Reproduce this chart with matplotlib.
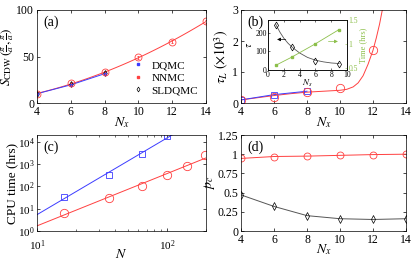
import numpy as np
import matplotlib.pyplot as plt
from matplotlib.lines import Line2D

plt.rcParams['font.family'] = ['Liberation Serif', 'DejaVu Serif']
plt.rcParams['mathtext.fontset'] = 'stix'
plt.rcParams['font.size'] = 8
plt.rcParams['xtick.direction'] = 'in'
plt.rcParams['ytick.direction'] = 'in'
plt.rcParams['xtick.top'] = True
plt.rcParams['ytick.right'] = True
plt.rcParams['axes.linewidth'] = 0.5

blue = '#3c3cff'
red = '#ff4040'
green = '#8cbf4a'

# (a) structure factor
nx_dq = [4, 6, 8]
s_dq = [10, 19.5, 31.5]
s_dq_err = [1.0, 1.2, 1.5]
nx_nn = [4, 6, 8, 10, 12, 14]
s_nn = [10, 21, 33, 49, 66, 88]
s_sl = [10, 20, 32]

# (b) autocorrelation time (x10^3)
tau_dq = [0.1, 0.27, 0.38]
tau_nn = [0.1, 0.2, 0.35, 0.5, 1.7]
nx_tau_nn = [4, 6, 8, 10, 12]
fit_b_x = [4, 5, 6, 7, 8, 9, 10, 10.4, 10.8, 11.1, 11.4, 11.7, 12.0, 12.2, 12.4, 12.6]
fit_b_y = [0.1, 0.17, 0.24, 0.3, 0.35, 0.38, 0.41, 0.44, 0.52, 0.65, 0.88, 1.25, 1.7, 2.1, 2.55, 3.1]

# inset
ns = [1, 3, 6, 9]
tau_ns = [245, 125, 50, 35]
time_ns = [0.55, 0.72, 1.0, 1.3]
fit_i_x = [1, 1.5, 2, 2.5, 3, 4, 5, 6, 7, 8, 9]
fit_i_y = [245, 205, 172, 146, 125, 92, 68, 53, 44, 38, 35]

# (c) CPU time
N_c = [16, 36, 64, 100, 144, 196]
cpu_nn = [6.5, 30, 105, 310, 800, 2600]
N_dq = [16, 36, 64, 100]
cpu_dq = [33, 320, 2900, 18000]

# (d) acceptance
nx_d = [4, 6, 8, 10, 12, 14]
pc_nn = [0.945, 0.97, 0.975, 0.985, 0.995, 1.0]
pc_sl = [0.47, 0.32, 0.2, 0.16, 0.15, 0.16]

fig = plt.figure(figsize=(4.15, 2.61), dpi=100)
W, H = 415, 261
def box(l, t, r, b):
    return [l / W, 1 - b / H, (r - l) / W, (b - t) / H]

axa = fig.add_axes(box(37, 10, 206, 103))
axb = fig.add_axes(box(241, 10, 406, 103))
axc = fig.add_axes(box(37, 135, 206, 231))
axd = fig.add_axes(box(241, 135, 406, 231))

# (a)
p = np.polyfit(nx_nn, s_nn, 2)
xf = np.linspace(4, 14, 100)
axa.plot(xf, np.polyval(p, xf), color=red, lw=0.7)
axa.plot(nx_dq, s_dq, color=blue, lw=0.7)
axa.errorbar(nx_dq, s_dq, yerr=s_dq_err, fmt='s', color=blue, ms=2, mfc='none', mew=0.6,
             elinewidth=0.6, capsize=1)
axa.errorbar(nx_nn, s_nn, yerr=[1.5] * 6, fmt='o', color=red, ms=5, mfc='none', mew=0.6,
             elinewidth=0.6, capsize=1)
axa.plot(nx_dq, s_sl, 'd', color='k', ms=3, mfc='none', mew=0.5, ls='none')
handles = [
    Line2D([0], [0], color=blue, marker='s', ms=1.5, ls='none'),
    Line2D([0], [0], color=red, marker='s', ms=1.5, ls='none'),
    Line2D([0], [0], color='k', marker='d', ms=2.5, mfc='none', mew=0.5, ls='none'),
]
axa.legend(handles, ['DQMC', 'NNMC', 'SLDQMC'], loc='lower right', frameon=False, fontsize=8,
           handlelength=0.6, handletextpad=0.9, labelspacing=0.25, borderaxespad=0.3)
axa.set_xlim(4, 14)
axa.set_ylim(0, 100)
axa.set_xticks([4, 6, 8, 10, 12, 14])
axa.set_xlabel('$N_x$', fontsize=10, labelpad=-1.5)
axa.set_ylabel(r'$S_{\rm CDW}\,(\frac{\pi}{a},\frac{\pi}{a})$', fontsize=9.5, labelpad=0)
axa.text(0.04, 0.94, '(a)', transform=axa.transAxes, fontsize=10, va='top')

# (b)
axb.plot(fit_b_x, fit_b_y, color=red, lw=0.7)
axb.plot(nx_dq, tau_dq, color=blue, lw=0.7)
axb.plot(nx_dq, tau_dq, 's', color=blue, ms=5, mfc='none', mew=0.6)
axb.plot(nx_tau_nn, tau_nn, 'o', color=red, ms=6, mfc='none', mew=0.6)
axb.set_xlim(4, 14)
axb.set_ylim(0, 3)
axb.set_xticks([4, 6, 8, 10, 12, 14])
axb.set_yticks([0, 1, 2, 3])
axb.set_xlabel('$N_x$', fontsize=10, labelpad=-1.5)
axb.set_ylabel(r'$\tau_L\ (\times10^3)$', fontsize=10, labelpad=1)
axb.text(0.04, 0.94, '(b)', transform=axb.transAxes, fontsize=10, va='top')

# inset
axi = fig.add_axes(box(268, 20, 347, 70))
axi.plot(fit_i_x, fit_i_y, color='#555555', lw=0.6)
axi.plot(ns, tau_ns, 'd', color='k', ms=3.5, mfc='none', mew=0.5)
axi.set_xlim(0, 10)
axi.set_ylim(0, 270)
axi.set_xticks([0, 2, 4, 6, 8, 10])
axi.set_yticks([0, 100, 200])
axi.tick_params(labelsize=5.5, length=1.5, pad=1, width=0.4)
axi.set_xlabel('$N_s$', fontsize=6.5, labelpad=-1)
axi.set_ylabel(r'$\tau$', fontsize=7, labelpad=1)
axi.annotate('', xy=(0.8, 165), xytext=(2.6, 165),
             arrowprops=dict(arrowstyle='-|>', color='k', lw=0.5, mutation_scale=5))
axi2 = axi.twinx()
axi2.plot(ns, time_ns, 's-', color=green, ms=2, lw=0.6)
axi2.set_ylim(0.45, 1.5)
axi2.set_yticks([0.5, 1, 1.5])
axi2.set_yticklabels(['0.5', '1', '1.5'])
axi2.tick_params(labelsize=5.5, length=1.5, pad=1, colors=green, width=0.4)
axi2.set_ylabel('Time (hrs)', fontsize=6, color=green, labelpad=1)
axi2.annotate('', xy=(9.2, 1.05), xytext=(7.3, 1.05),
              arrowprops=dict(arrowstyle='-|>', color=green, lw=0.5, mutation_scale=5))

# (c)
for xs, ys, c, m, ms, xr in [(N_dq, cpu_dq, blue, 's', 5, (10, 110)),
                            (N_c, cpu_nn, red, 'o', 6, (10, 200))]:
    k, b = np.polyfit(np.log10(xs), np.log10(ys), 1)
    xl = np.array(xr)
    axc.plot(xl, 10 ** (k * np.log10(xl) + b), color=c, lw=0.7)
    axc.plot(xs, ys, m, color=c, ms=ms, mfc='none', mew=0.6)
axc.set_xscale('log')
axc.set_yscale('log')
axc.set_xlim(10, 200)
axc.set_ylim(1, 2e4)
axc.set_yticks([1, 10, 100, 1000, 10000])
axc.set_xlabel('$N$', fontsize=10, labelpad=-3)
axc.set_ylabel('CPU time (hrs)', fontsize=9.5, labelpad=0)
axc.text(0.04, 0.94, '(c)', transform=axc.transAxes, fontsize=10, va='top')

# (d)
axd.plot(nx_d, pc_nn, '-', color=red, lw=0.7)
axd.plot(nx_d, pc_nn, 'o', color=red, ms=5, mfc='none', mew=0.6)
axd.plot(nx_d, pc_sl, '-', color='#555555', lw=0.7)
axd.plot(nx_d, pc_sl, 'd', color='k', ms=4, mfc='none', mew=0.5)
axd.set_xlim(4, 14)
axd.set_ylim(0, 1.25)
axd.set_xticks([4, 6, 8, 10, 12, 14])
axd.set_yticks([0, 0.25, 0.5, 0.75, 1, 1.25])
axd.set_yticklabels(['0', '0.25', '0.5', '0.75', '1', '1.25'])
axd.set_xlabel('$N_x$', fontsize=10, labelpad=-2.5)
axd.set_ylabel('$p_c$', fontsize=10, labelpad=0)
axd.text(0.04, 0.94, '(d)', transform=axd.transAxes, fontsize=10, va='top')

for ax in [axa, axb, axc, axd]:
    ax.tick_params(labelsize=8.5, length=2.5, width=0.5, pad=2)
    ax.tick_params(which='minor', length=1.5, width=0.4)
axc.tick_params(labelsize=8, pad=1.5)
axc.tick_params(axis='x', which='major', pad=5)

fig.savefig('out.png', dpi=100)
